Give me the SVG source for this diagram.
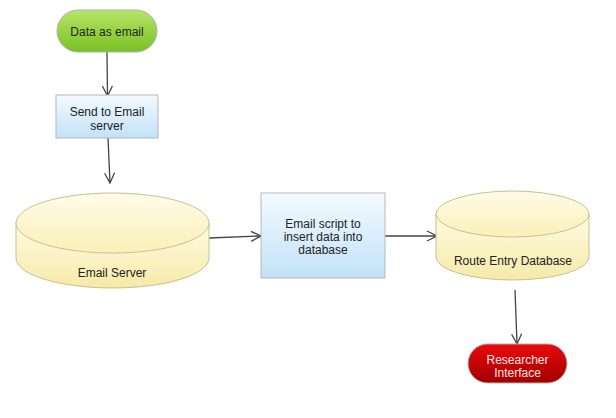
<svg xmlns="http://www.w3.org/2000/svg" width="616" height="418" viewBox="0 0 616 418">
<style>
text{font-family:"Liberation Sans",Arial,sans-serif;font-size:12px;fill:#222;text-anchor:middle}
.edge{stroke:#444;stroke-width:1.3;fill:none;marker-end:url(#arr)}
.box{fill:url(#gBlue);stroke:#b8b8b8;stroke-width:1}
.cyl{fill:url(#gYel);stroke:#c8c090;stroke-width:1}
.cyltop{fill:url(#gYelTop);stroke:#c8c090;stroke-width:1}
</style>
<defs>
<linearGradient id="gGreen" x1="0" y1="0" x2="0" y2="1"><stop offset="0" stop-color="#b8e466"/><stop offset="1" stop-color="#78c024"/></linearGradient>
<linearGradient id="gRed" x1="0" y1="0" x2="0" y2="1"><stop offset="0" stop-color="#ec0a0a"/><stop offset="1" stop-color="#a00000"/></linearGradient>
<linearGradient id="gBlue" x1="0" y1="0" x2="0" y2="1"><stop offset="0" stop-color="#f4faff"/><stop offset="1" stop-color="#c2e2f8"/></linearGradient>
<linearGradient id="gYel" x1="0" y1="0" x2="0" y2="1"><stop offset="0" stop-color="#fffbe4"/><stop offset="1" stop-color="#f6eaa8"/></linearGradient>
<linearGradient id="gYelTop" x1="0" y1="0" x2="0" y2="1"><stop offset="0" stop-color="#fffbe8"/><stop offset="1" stop-color="#faf0b8"/></linearGradient>
<marker id="arr" viewBox="0 0 12 12" refX="11" refY="6" markerWidth="12" markerHeight="12" markerUnits="userSpaceOnUse" orient="auto">
<path d="M1,1 L11,6 L1,11" fill="none" stroke="#444" stroke-width="1.3"/>
</marker>
</defs>
<g id="connectors">
<line class="edge" x1="107" y1="52" x2="107.5" y2="96"/>
<line class="edge" x1="108" y1="138" x2="110" y2="183"/>
<line class="edge" x1="209" y1="238" x2="261" y2="236"/>
<line class="edge" x1="385" y1="236" x2="437" y2="236"/>
<line class="edge" x1="515" y1="290" x2="517" y2="344"/>
</g>
<g id="n-data-email">
<rect x="57" y="10" width="100" height="42" rx="21" fill="url(#gGreen)" stroke="#b0b0b0"/>
<text x="107" y="36">Data as email</text>
</g>
<g id="n-send-email">
<rect class="box" x="56" y="95" width="102" height="43"/>
<text x="107" y="116">Send to Email</text>
<text x="107" y="130">server</text>
</g>
<g id="n-email-server">
<path class="cyl" d="M16,223 V258 A96.5,30 0 0 0 209,258 V223 Z"/>
<ellipse class="cyltop" cx="112.5" cy="223" rx="96.5" ry="30"/>
<text x="112" y="277">Email Server</text>
</g>
<g id="n-email-script">
<rect class="box" x="261" y="193" width="124" height="85"/>
<text x="323" y="228">Email script to</text>
<text x="323" y="241">insert data into</text>
<text x="323" y="254">database</text>
</g>
<g id="n-route-db">
<path class="cyl" d="M436,214 V257 A76.5,23 0 0 0 589,257 V214 Z"/>
<ellipse class="cyltop" cx="512.5" cy="214" rx="76.5" ry="23"/>
<text x="513" y="265">Route Entry Database</text>
</g>
<g id="n-researcher">
<rect x="468" y="344" width="99" height="39" rx="19.5" fill="url(#gRed)" stroke="#b0b0b0"/>
<text x="517.5" y="364" style="fill:#ffe4e4">Researcher</text>
<text x="517.5" y="377" style="fill:#ffe4e4">Interface</text>
</g>
</svg>
